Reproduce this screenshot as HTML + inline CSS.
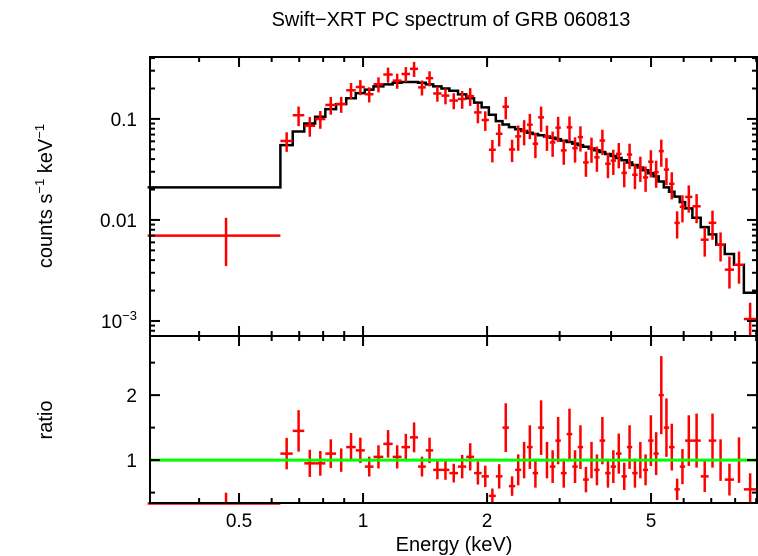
<!DOCTYPE html>
<html><head><meta charset="utf-8"><style>
html,body{margin:0;padding:0;background:#fff}
svg{display:block}
text{font-family:"Liberation Sans",sans-serif;fill:#000}
</style></head><body>
<svg id="chart" width="758" height="556" viewBox="0 0 758 556" xmlns="http://www.w3.org/2000/svg">
<text x="451" y="26" font-size="20" text-anchor="middle">Swift−XRT PC spectrum of GRB 060813</text>
<text transform="translate(52,196) rotate(-90)" font-size="20" text-anchor="middle">counts s<tspan font-size="13" dy="-8">−1</tspan><tspan dy="8"> keV</tspan><tspan font-size="13" dy="-8">−1</tspan></text>
<text transform="translate(52,420) rotate(-90)" font-size="20" text-anchor="middle">ratio</text>
<text x="454" y="551" font-size="20" text-anchor="middle">Energy (keV)</text>
<g id="topPanel"></g>
<g id="botPanel"></g>
</svg>
<script>
const edges=[0.30,0.63,0.675,0.72,0.765,0.81,0.86,0.91,0.96,1.01,1.06,1.12,1.18,1.24,1.30,1.36,1.42,1.48,1.55,1.62,1.70,1.78,1.86,1.94,2.02,2.10,2.18,2.26,2.34,2.42,2.50,2.58,2.66,2.75,2.84,2.93,3.02,3.12,3.22,3.32,3.42,3.53,3.64,3.75,3.87,3.99,4.11,4.24,4.37,4.50,4.64,4.78,4.92,5.07,5.22,5.37,5.53,5.70,5.87,6.05,6.30,6.60,6.90,7.20,7.55,7.95,8.40,9.0];
const model=[0.021,0.055,0.075,0.09,0.105,0.125,0.14,0.16,0.18,0.195,0.21,0.22,0.228,0.232,0.232,0.228,0.22,0.21,0.2,0.19,0.175,0.16,0.145,0.13,0.11,0.095,0.088,0.083,0.079,0.076,0.073,0.071,0.069,0.067,0.065,0.063,0.061,0.059,0.057,0.055,0.053,0.051,0.049,0.047,0.045,0.043,0.041,0.039,0.037,0.035,0.033,0.031,0.029,0.027,0.024,0.021,0.019,0.017,0.015,0.013,0.0105,0.0085,0.0072,0.0057,0.0046,0.0036,0.0019];
const ratio=[0.333,1.1,1.45,0.95,0.95,1.1,1.0,1.2,1.15,0.9,1.05,1.25,1.05,1.2,1.35,0.9,1.15,0.85,0.85,0.8,0.9,1.05,0.8,0.75,0.45,0.75,1.5,0.6,0.85,1.0,1.2,0.8,1.5,1.0,0.9,1.3,0.8,1.4,0.9,1.2,0.7,1.0,0.85,1.3,0.8,0.9,1.1,0.75,1.2,0.8,1.0,0.85,1.3,1.1,2.0,1.5,1.2,0.55,0.9,1.3,1.3,0.75,1.3,1.0,0.7,1.0,0.55];
const relErr=[0.5,0.22,0.22,0.22,0.2,0.2,0.18,0.18,0.17,0.17,0.17,0.17,0.17,0.17,0.17,0.17,0.17,0.17,0.18,0.18,0.2,0.2,0.22,0.22,0.25,0.25,0.25,0.25,0.28,0.28,0.28,0.28,0.28,0.28,0.28,0.28,0.28,0.28,0.28,0.28,0.28,0.28,0.28,0.28,0.28,0.28,0.28,0.28,0.28,0.28,0.28,0.28,0.3,0.3,0.3,0.3,0.3,0.3,0.3,0.3,0.32,0.32,0.32,0.32,0.35,0.35,0.45];
const xTicks=[0.5,1,2,5];
const xTickLabels=["0.5","1","2","5"];
const topTicks=[0.1,0.01];
const topTickLabels=["0.1","0.01"];
const botTicks=[1,2];
const botTickLabels=["1","2"];

const L=150,R=757,T1=57,B1=336,T2=336,B2=503;
const xmin=Math.log10(0.304),xmax=Math.log10(9.04);
const X=e=>L+(Math.log10(e)-xmin)/(xmax-xmin)*(R-L);
const y1min=Math.log10(7.1e-4),y1max=Math.log10(0.41);
const Y1=v=>B1-(Math.log10(v)-y1min)/(y1max-y1min)*(B1-T1);
const Y2=v=>B2-(v-0.34)/(2.91-0.34)*(B2-T2);
const NS="http://www.w3.org/2000/svg";
function mk(tag,attrs,parent){const el=document.createElementNS(NS,tag);for(const k in attrs)el.setAttribute(k,attrs[k]);parent.appendChild(el);return el;}
const topG=document.getElementById('topPanel'),botG=document.getElementById('botPanel');
const cl=(v,a,b)=>Math.max(a,Math.min(b,v));

let d='';
for(let i=0;i<model.length;i++){const x0=X(edges[i]),x1=X(edges[i+1]),y=Y1(model[i]);d+=(i?'L':'M')+x0+','+y+'L'+x1+','+y;}
const mp=mk('path',{d:d,fill:'none',stroke:'#000','stroke-width':2.5},topG);



for(let i=0;i<model.length;i++){
  const r=model[i]*ratio[i],lo=r*(1-relErr[i]),hi=r*(1+relErr[i]);
  const xc=X((edges[i]+edges[i+1])/2),x0=X(edges[i]),x1=X(edges[i+1]);
  const g=mk('g',{stroke:'#f00','stroke-width':2.5},topG);
  
  
  mk('line',{x1:x0,x2:x1,y1:Y1(r),y2:Y1(r)},g);
  mk('line',{x1:xc,x2:xc,y1:cl(Y1(hi),T1,B1),y2:cl(Y1(lo),T1,B1)},g);
  const rr=ratio[i],rlo=rr*(1-relErr[i]),rhi=rr*(1+relErr[i]);
  const g2=mk('g',{stroke:'#f00','stroke-width':2.5},botG);
  
  
  mk('line',{x1:x0,x2:x1,y1:Y2(rr),y2:Y2(rr)},g2);
  mk('line',{x1:xc,x2:xc,y1:cl(Y2(rhi),T2,B2),y2:cl(Y2(rlo),T2,B2)},g2);
}
const gl=mk('line',{x1:L,x2:R,y1:Y2(1),y2:Y2(1),stroke:'#0f0','stroke-width':3},botG);



for(const [t,b,p] of [[T1,B1,topG],[T2,B2,botG]]){
  const f=mk('rect',{x:L,y:t,width:R-L,height:b-t,fill:'none',stroke:'#000','stroke-width':2},p);
  
  
}
const minorX=[0.4,0.6,0.7,0.8,0.9,3,4,6,7,8,9];
function xt(e,len){for(const [t,b] of [[T1,B1],[T2,B2]]){mk('line',{x1:X(e),x2:X(e),y1:t,y2:t+len,stroke:'#000','stroke-width':2},botG);mk('line',{x1:X(e),x2:X(e),y1:b,y2:b-len,stroke:'#000','stroke-width':2},botG);}}
xTicks.forEach(e=>xt(e,10));minorX.forEach(e=>xt(e,5));
xTicks.forEach((e,i)=>{const t=mk('text',{x:X(e),y:527,'font-size':19,'text-anchor':'middle'},botG);t.textContent=xTickLabels[i];});
function yt(y,len){mk('line',{x1:L,x2:L+len,y1:y,y2:y,stroke:'#000','stroke-width':2},topG);mk('line',{x1:R,x2:R-len,y1:y,y2:y,stroke:'#000','stroke-width':2},topG);}
for(let dec=1e-4;dec<1;dec*=10){for(let m=1;m<10;m++){const v=dec*m;if(v<7.1e-4||v>0.41)continue;yt(Y1(v),m===1?10:5);}}
topTicks.forEach((v,i)=>{const t=mk('text',{x:137,y:Y1(v)+7,'font-size':19,'text-anchor':'end'},topG);t.textContent=topTickLabels[i];});
const t3=mk('text',{x:137,y:Y1(0.001)+7,'font-size':19,'text-anchor':'end'},topG);
t3.innerHTML='10<tspan font-size="13" dy="-8">−3</tspan>';


for(let v=0.5;v<2.91;v+=0.5){const y=Y2(v);const len=(v%1===0)?10:5;mk('line',{x1:L,x2:L+len,y1:y,y2:y,stroke:'#000','stroke-width':2},botG);mk('line',{x1:R,x2:R-len,y1:y,y2:y,stroke:'#000','stroke-width':2},botG);}
botTicks.forEach((v,i)=>{const t=mk('text',{x:137,y:Y2(v)+7,'font-size':19,'text-anchor':'end'},botG);t.textContent=botTickLabels[i];});
</script>
</body></html>
